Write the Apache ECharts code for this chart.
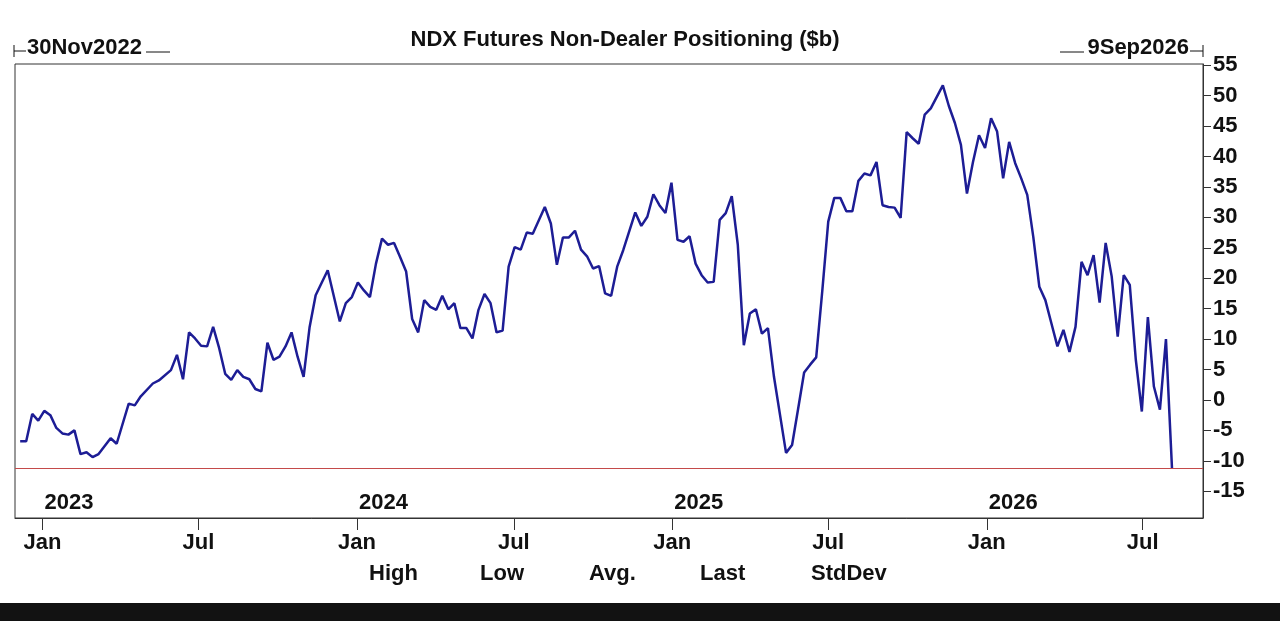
<!DOCTYPE html>
<html>
<head>
<meta charset="utf-8">
<title>NDX Futures Non-Dealer Positioning</title>
<script src="https://cdn.jsdelivr.net/npm/echarts@6.0.0/dist/echarts.min.js"></script>
<style>
  html, body { margin: 0; padding: 0; background: #121212; }
  #chart { width: 1280px; height: 603px; background: #fff; }
</style>
</head>
<body>
<div id="chart"></div>
<script>
// weekly readings (Tue), $b
const dates = [
  '2022-12-06','2022-12-13','2022-12-20','2022-12-27','2023-01-03','2023-01-10','2023-01-17','2023-01-24','2023-01-31','2023-02-07',
  '2023-02-14','2023-02-21','2023-02-28','2023-03-07','2023-03-21','2023-03-28','2023-04-11','2023-04-18','2023-04-25','2023-05-09',
  '2023-05-16','2023-05-30','2023-06-06','2023-06-13','2023-06-20','2023-06-27','2023-07-04','2023-07-11','2023-07-18','2023-07-25',
  '2023-08-01','2023-08-08','2023-08-15','2023-08-22','2023-08-29','2023-09-05','2023-09-12','2023-09-19','2023-09-26','2023-10-03',
  '2023-10-10','2023-10-17','2023-10-24','2023-10-31','2023-11-07','2023-11-14','2023-11-28','2023-12-12','2023-12-19','2023-12-26',
  '2024-01-02','2024-01-09','2024-01-16','2024-01-23','2024-01-30','2024-02-06','2024-02-13','2024-02-20','2024-02-27','2024-03-05',
  '2024-03-12','2024-03-19','2024-03-26','2024-04-02','2024-04-09','2024-04-16','2024-04-23','2024-04-30','2024-05-07','2024-05-14',
  '2024-05-21','2024-05-28','2024-06-04','2024-06-11','2024-06-18','2024-06-25','2024-07-02','2024-07-09','2024-07-16','2024-07-23',
  '2024-08-06','2024-08-13','2024-08-20','2024-08-27','2024-09-03','2024-09-10','2024-09-17','2024-09-24','2024-10-01','2024-10-08',
  '2024-10-15','2024-10-22','2024-10-29','2024-11-05','2024-11-19','2024-11-26','2024-12-03','2024-12-10','2024-12-17','2024-12-24',
  '2024-12-31','2025-01-07','2025-01-14','2025-01-21','2025-01-28','2025-02-04','2025-02-11','2025-02-18','2025-02-25','2025-03-04',
  '2025-03-11','2025-03-18','2025-03-25','2025-04-01','2025-04-08','2025-04-15','2025-04-22','2025-04-29','2025-05-13','2025-05-20',
  '2025-05-27','2025-06-03','2025-06-10','2025-06-17','2025-06-24','2025-07-01','2025-07-08','2025-07-15','2025-07-22','2025-07-29',
  '2025-08-05','2025-08-12','2025-08-19','2025-08-26','2025-09-02','2025-09-09','2025-09-16','2025-09-23','2025-09-30','2025-10-07',
  '2025-10-14','2025-10-21','2025-10-28','2025-11-11','2025-11-18','2025-11-25','2025-12-02','2025-12-09','2025-12-16','2025-12-23',
  '2025-12-30','2026-01-06','2026-01-13','2026-01-20','2026-01-27','2026-02-03','2026-02-10','2026-02-17','2026-02-24','2026-03-03',
  '2026-03-10','2026-03-17','2026-03-24','2026-03-31','2026-04-07','2026-04-14','2026-04-21','2026-04-28','2026-05-05','2026-05-12',
  '2026-05-19','2026-05-26','2026-06-02','2026-06-09','2026-06-16','2026-06-23','2026-06-30','2026-07-07','2026-07-14','2026-07-21',
  '2026-07-28','2026-08-01','2026-08-04'
];
const positioning = [
  -6.8, -6.8, -2.3, -3.4, -1.8, -2.5, -4.6, -5.5, -5.7, -5.0,
  -8.9, -8.6, -9.4, -8.9, -6.3, -7.2, -0.6, -0.9, 0.6, 2.7,
  3.2, 4.9, 7.4, 3.4, 11.1, 10.1, 8.9, 8.8, 12.0, 8.5,
  4.3, 3.3, 4.9, 3.8, 3.4, 1.8, 1.4, 9.4, 6.6, 7.1,
  8.8, 11.1, 7.1, 3.8, 12.0, 17.2, 21.3, 12.9, 15.9, 16.9,
  19.3, 18.0, 16.9, 22.4, 26.5, 25.5, 25.8, 23.5, 21.1, 13.3,
  11.1, 16.4, 15.3, 14.8, 17.1, 14.9, 15.9, 11.8, 11.8, 10.1,
  14.8, 17.4, 15.9, 11.1, 11.4, 21.9, 25.1, 24.7, 27.5, 27.3,
  31.7, 29.0, 22.2, 26.7, 26.7, 27.8, 24.7, 23.6, 21.6, 22.0,
  17.5, 17.1, 21.9, 24.6, 30.8, 28.6, 30.1, 33.8, 32.0, 30.7,
  35.7, 26.3, 26.0, 26.9, 22.4, 20.5, 19.3, 19.4, 29.6, 30.7,
  33.5, 25.5, 9.0, 14.2, 14.9, 10.9, 11.8, 3.8, -8.7, -7.4,
  -1.5, 4.5, 5.8, 7.0, 17.8, 29.3, 33.2, 33.2, 31.0, 31.0,
  36.0, 37.2, 36.9, 39.1, 32.0, 31.7, 31.6, 29.9, 44.0, 43.0,
  42.1, 46.9, 47.9, 51.7, 48.3, 45.5, 41.9, 33.9, 39.1, 43.5,
  41.4, 46.3, 44.1, 36.4, 42.4, 38.9, 36.4, 33.7, 26.8, 18.6,
  16.4, 12.6, 8.8, 11.5, 7.9, 12.0, 22.7, 20.5, 23.8, 16.0,
  25.8, 20.3, 10.4, 20.5, 18.9, 6.6, -1.9, 13.6, 2.2, -1.6,
  10.0, -2.2, -11.2
];

const tickDates = ['2023-01-01','2023-07-01','2024-01-01','2024-07-01','2025-01-01','2025-07-01','2026-01-01','2026-07-01'];
const tickLabels = ['Jan','Jul','Jan','Jul','Jan','Jul','Jan','Jul'];
const yearDates = ['2023-01-01','2024-01-01','2025-01-01','2026-01-01'];
const yearLabels = ['2023','2024','2025','2026'];
const yTicks = [-15, -10, -5, 0, 5, 10, 15, 20, 25, 30, 35, 40, 45, 50, 55];
const statHeads = ['High', 'Low', 'Avg.', 'Last', 'StdDev'];

function ts(s) {
  const p = s.split('-').map(Number);
  return Date.UTC(p[0], p[1] - 1, p[2]);
}

const FONT = 'Liberation Sans, Arial, sans-serif';
const FS = 22;
const startT = ts('2022-11-30');
const endT = ts('2026-09-09');
const tickT = tickDates.map(ts);
const yearT = yearDates.map(ts);
const lastVal = positioning[positioning.length - 1];

let chart = echarts.init(document.getElementById('chart'));

const statX = [369, 480, 589, 700, 811];
const graphics = statHeads.map((t, i) => ({
  type: 'text', left: statX[i], top: 563,
  style: { text: t, font: 'bold ' + FS + 'px ' + FONT, fill: '#111' }
}));
// top date bracket markers
graphics.push(
  { type: 'line', shape: { x1: 14, y1: 45, x2: 14, y2: 57 }, style: { stroke: '#111', lineWidth: 1 } },
  { type: 'line', shape: { x1: 14, y1: 51, x2: 26, y2: 51 }, style: { stroke: '#111', lineWidth: 1 } },
  { type: 'text', left: 27, top: 37, style: { text: '30Nov2022', font: 'bold ' + FS + 'px ' + FONT, fill: '#111' } },
  { type: 'line', shape: { x1: 146, y1: 52, x2: 170, y2: 52 }, style: { stroke: '#111', lineWidth: 1 } },
  { type: 'line', shape: { x1: 1060, y1: 52, x2: 1084, y2: 52 }, style: { stroke: '#111', lineWidth: 1 } },
  { type: 'text', right: 1280 - 1189, top: 37, style: { text: '9Sep2026', font: 'bold ' + FS + 'px ' + FONT, fill: '#111' } },
  { type: 'line', shape: { x1: 1190, y1: 51, x2: 1203, y2: 51 }, style: { stroke: '#111', lineWidth: 1 } },
  { type: 'line', shape: { x1: 1203, y1: 45, x2: 1203, y2: 57 }, style: { stroke: '#111', lineWidth: 1 } }
);

chart.setOption({
  animation: false,
  backgroundColor: '#fff',
  title: {
    text: 'NDX Futures Non-Dealer Positioning ($b)',
    left: 620, top: 24, textAlign: 'center',
    textStyle: { fontFamily: FONT, fontWeight: 'bold', fontSize: FS, color: '#111' }
  },
  grid: {
    left: 15, right: 77, top: 64, bottom: 85,
    show: true, borderColor: '#333', borderWidth: 1
  },
  xAxis: [{
    type: 'value', min: startT, max: endT, scale: true,
    axisLine: { show: true, onZero: false, lineStyle: { color: '#333' } },
    axisTick: { show: true, length: 12, customValues: tickT, lineStyle: { color: '#333' } },
    axisLabel: {
      customValues: tickT, margin: 14,
      fontFamily: FONT, fontWeight: 'bold', fontSize: FS, color: '#111',
      formatter: v => tickLabels[tickT.indexOf(v)] || ''
    },
    splitLine: { show: false }
  }, {
    type: 'value', min: startT, max: endT, scale: true, position: 'bottom',
    axisLine: { show: false, onZero: false }, axisTick: { show: false },
    axisLabel: {
      inside: true, customValues: yearT, margin: 4, align: 'left', padding: [0, 0, 0, 2],
      fontFamily: FONT, fontWeight: 'bold', fontSize: FS, color: '#111',
      formatter: v => yearLabels[yearT.indexOf(v)] || ''
    },
    splitLine: { show: false }
  }],
  yAxis: {
    type: 'value', position: 'right', min: -19.4, max: 55.2,
    axisLine: { show: true, lineStyle: { color: '#333' } },
    axisTick: { show: true, length: 8, customValues: yTicks, lineStyle: { color: '#333' } },
    axisLabel: {
      customValues: yTicks, margin: 10,
      fontFamily: FONT, fontWeight: 'bold', fontSize: FS, color: '#111'
    },
    splitLine: { show: false }
  },
  graphic: graphics,
  series: [{
    name: 'Positioning',
    type: 'line',
    xAxisIndex: 0,
    data: dates.map((d, i) => [ts(d), positioning[i]]),
    symbol: 'none',
    lineStyle: { color: '#1d1d95', width: 2.5 },
    markLine: {
      silent: true, symbol: 'none', label: { show: false },
      lineStyle: { color: '#c44a4a', type: 'solid', width: 1.2 },
      data: [{ yAxis: lastVal }]
    }
  }]
});
</script>
</body>
</html>
